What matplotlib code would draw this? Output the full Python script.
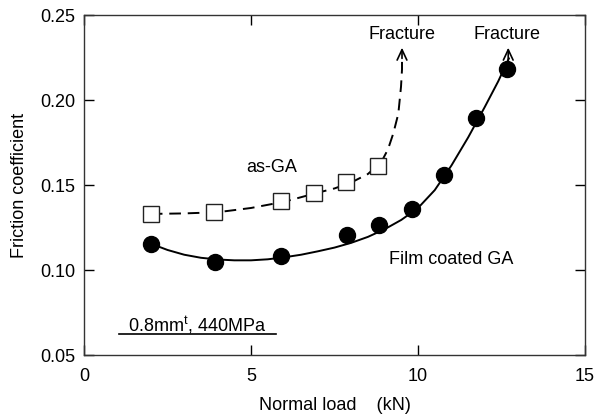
import matplotlib
matplotlib.use("Agg")
import matplotlib.pyplot as plt

plt.rcParams['font.family'] = ['Liberation Sans', 'DejaVu Sans']

# Measured data
ga_x = [2.0, 3.9, 5.9, 6.9, 7.85, 8.8]
ga_y = [0.133, 0.134, 0.1405, 0.1455, 0.152, 0.161]

film_x = [2.0, 3.92, 5.9, 7.87, 8.83, 9.82, 10.78, 11.74, 12.66]
film_y = [0.1155, 0.1047, 0.108, 0.1206, 0.1265, 0.1357, 0.156, 0.1895, 0.218]

# Fitted curves
ga_fit_x = [2.0, 3.0, 4.0, 5.0, 6.0, 7.0, 7.5, 8.0, 8.5, 8.9, 9.1, 9.26, 9.41, 9.49, 9.52, 9.52]
ga_fit_y = [0.133, 0.1333, 0.134, 0.1365, 0.1402, 0.1455, 0.148, 0.1515, 0.1565, 0.1635,
            0.171, 0.1804, 0.192, 0.2078, 0.218, 0.226]

film_fit_x = [2.0, 2.5, 3.0, 3.5, 4.0, 4.5, 5.0, 5.5, 6.0, 6.5, 7.0, 7.5, 8.0, 8.5, 9.0,
              9.5, 10.0, 10.5, 11.0, 11.5, 12.0, 12.4, 12.72]
film_fit_y = [0.1155, 0.1118, 0.109, 0.1072, 0.1062, 0.1057, 0.1057, 0.1063, 0.1075, 0.109,
              0.111, 0.1132, 0.116, 0.1195, 0.124, 0.1295, 0.1365, 0.147, 0.1615, 0.178,
              0.196, 0.211, 0.2245]

xticks = [0, 5, 10, 15]
yticks = [0.05, 0.10, 0.15, 0.20, 0.25]

fig = plt.figure(figsize=(5.97, 4.18), dpi=100)
ax = fig.add_axes([0.1407, 0.1507, 0.8393, 0.8133])

ax.plot(film_fit_x, film_fit_y, color='black', lw=1.4, zorder=2)
ax.plot(ga_fit_x, ga_fit_y, color='black', lw=1.4, dashes=(6, 3.5), zorder=2)

ax.plot(film_x, film_y, 'o', ms=11.5, mfc='black', mec='black', zorder=3)
ax.plot(ga_x, ga_y, 's', ms=11, mfc='white', mec='#222222', mew=1.0, zorder=3)

# Fracture arrows
arrow_kw = dict(arrowstyle='->,head_length=0.75,head_width=0.35', lw=1.2, color='black',
                shrinkA=0, shrinkB=0)
ax.annotate('', xy=(9.52, 0.2308), xytext=(9.52, 0.2245), arrowprops=arrow_kw)
ax.annotate('', xy=(12.7, 0.2308), xytext=(12.7, 0.2225), arrowprops=arrow_kw)

fs = 13
ax.text(9.52, 0.2385, 'Fracture', ha='center', va='center', fontsize=fs)
ax.text(12.66, 0.2385, 'Fracture', ha='center', va='center', fontsize=fs)
ax.text(5.63, 0.1606, 'as-GA', ha='center', va='center', fontsize=fs)
ax.text(11.0, 0.1059, 'Film coated GA', ha='center', va='center', fontsize=fs)
ax.text(3.4, 0.0676, '0.8mm$^{\\mathregular{t}}$, 440MPa', ha='center', va='center', fontsize=fs)
ax.plot([1.06, 5.76], [0.0622, 0.0622], color='black', lw=1.2)

ax.set_xlim(0, 15)
ax.set_ylim(0.05, 0.25)
ax.set_xticks(xticks)
ax.set_xticklabels([str(t) for t in xticks])
ax.set_yticks(yticks)
ax.set_yticklabels([f'{t:.2f}' for t in yticks])
ax.tick_params(direction='in', length=7, width=1, top=True, right=True, labelsize=fs)
ax.tick_params(axis='x', pad=9)
ax.tick_params(axis='y', pad=6)
for s in ax.spines.values():
    s.set_linewidth(1.0)
    s.set_color('#333333')

ax.set_xlabel('Normal load    (kN)', fontsize=fs, labelpad=9)
ax.set_ylabel('Friction coefficient', fontsize=fs, labelpad=9)

fig.savefig('out.png', dpi=100)
